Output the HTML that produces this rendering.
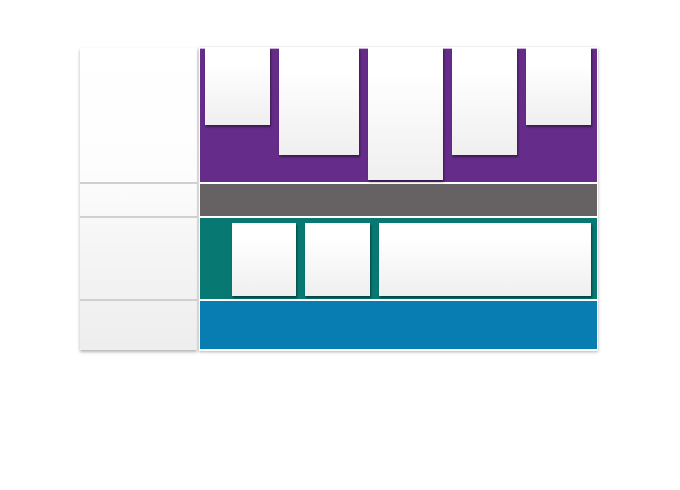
<!DOCTYPE html>
<html><head><style>
body{margin:0;width:680px;height:490px;background:#fff;position:relative;overflow:hidden}
div{position:absolute;box-sizing:border-box}
.sep{left:80px;width:117px;height:2px;background:#d0d0d0}
.c{background:linear-gradient(#fff 20%,#efefef);box-shadow:1px 2px 2px rgba(0,0,0,.45)}
</style></head><body>
<div style="left:80px;top:48px;width:117px;height:302px;background:linear-gradient(#fff,#fdfdfd 40%,#f4f4f4 70%,#eeeeee);box-shadow:0 2px 3px rgba(0,0,0,.3)"></div>
<div class="sep" style="top:182px"></div>
<div class="sep" style="top:216px"></div>
<div class="sep" style="top:299px"></div>
<div style="left:199px;top:47px;width:399px;height:304px;background:#fff;box-shadow:0 1px 3px rgba(0,0,0,.3)"></div>
<div style="left:200px;top:48px;width:397px;height:134px;background:#652d89;border-top:1px solid #c9b4d8"></div>
<div style="left:200px;top:184px;width:397px;height:32px;background:#666263"></div>
<div style="left:200px;top:218px;width:397px;height:81px;background:#087872"></div>
<div style="left:200px;top:301px;width:397px;height:48px;background:#087db2"></div>
<div class="c" style="left:205px;top:48px;width:65px;height:77px"></div>
<div class="c" style="left:279px;top:48px;width:80px;height:107px"></div>
<div class="c" style="left:368px;top:48px;width:75px;height:132px"></div>
<div class="c" style="left:452px;top:48px;width:65px;height:107px"></div>
<div class="c" style="left:526px;top:48px;width:65px;height:77px"></div>
<div class="c" style="left:232px;top:223px;width:64px;height:73px"></div>
<div class="c" style="left:305px;top:223px;width:65px;height:73px"></div>
<div class="c" style="left:379px;top:223px;width:212px;height:73px"></div>
</body></html>
